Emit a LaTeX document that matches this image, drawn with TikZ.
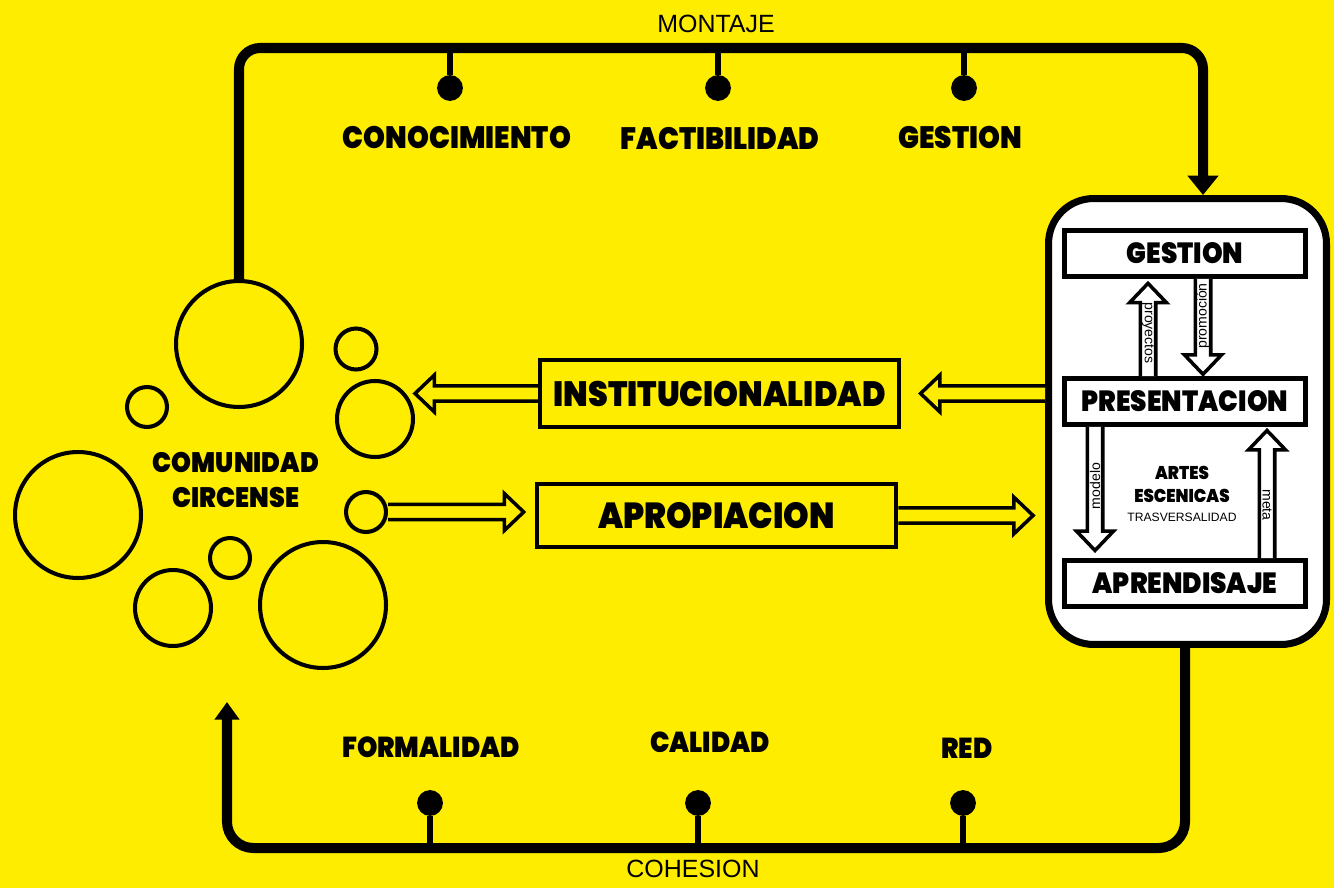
\documentclass[tikz,border=0pt]{standalone}
\usepackage{fontspec}
\setmainfont{Liberation Sans}
\newfontfamily\heavyfont{Poppins Black}[FakeStretch=0.9]
\usetikzlibrary{arrows.meta, positioning, calc}
\definecolor{CircusYellow}{RGB}{255,237,0}

% open block arrow drawn as an outline between two points
\tikzset{
  tip gap/.store in=\tipgap, tip gap=0pt,
  hollow/.style={draw=black, line width=2pt, fill=#1, line join=miter,
    to path={let \p1=(\tikztostart), \p2=(\tikztotarget),
      \n1={atan2(\y2-\y1,\x2-\x1)}, \n2={veclen(\x2-\x1,\y2-\y1)-\tipgap} in
      {[shift={(\p1)}, rotate=\n1]
        (0pt,-4.4pt) -- (\n2-11pt,-4.4pt) -- (\n2-11pt,-10.5pt) -- (\n2,0pt)
        -- (\n2-11pt,10.5pt) -- (\n2-11pt,4.4pt) -- (0pt,4.4pt)}}},
  hollow/.default=CircusYellow,
}

\begin{document}
\begin{tikzpicture}[x=0.02cm, y=-0.02cm,
    bus/.style={line width=5.7pt, rounded corners=12pt},
    drop/.style={line width=3.4pt},
    dot/.style={circle, fill, inner sep=0pt, minimum size=14.7pt},
    ring/.style={circle, draw, line width=2.3pt, inner sep=0pt, minimum size=#1},
    word/.style={font=\heavyfont\fontsize{#1}{#1}\selectfont, inner sep=0pt},
    plate/.style={rectangle, draw, line width=2.6pt, minimum width=7.18cm, minimum height=#1},
    stage/.style={rectangle, draw, fill=white, line width=2.8pt, minimum width=4.82cm,
                  minimum height=0.92cm, word=16.6pt},
    plain/.style={font=\fontsize{14.2pt}{14.2pt}\selectfont, inner sep=0pt},
    tag/.style={font=\fontsize{8pt}{8pt}\selectfont, inner sep=0pt},
  ]
  \fill[CircusYellow] (0,0) rectangle (1334,888);
  \useasboundingbox (0,0) rectangle (1334,888);

  % circus community
  \node[ring=2.52cm] (c1) at (239,344) {};
  \node[ring=0.82cm] (c2) at (356,349) {};
  \node[ring=1.52cm] (c3) at (375,419) {};
  \node[ring=0.80cm] (c4) at (147,407) {};
  \node[ring=2.52cm] (c5) at (78,515) {};
  \node[ring=0.80cm] (c6) at (366,512) {};
  \node[ring=0.80cm] (c7) at (230,558) {};
  \node[ring=1.52cm] (c8) at (173,608) {};
  \node[ring=2.52cm] (c9) at (323,605) {};
  \node[font=\heavyfont\fontsize{16pt}{20.4pt}\selectfont, align=center] (community) at (236,480) {COMUNIDAD\\CIRCENSE};

  % middle boxes
  \node[plate=1.34cm, word=20pt] (insti) at (719.5,393.5) {INSTITUCIONALIDAD};
  \node[plate=1.26cm, word=20.6pt] (apro) at (716.5,515.5) {APROPIACION};

  % performing arts board
  \node[draw, fill=white, line width=4pt, rounded corners=0.9cm, minimum width=5.56cm,
        minimum height=8.92cm] (board) at (1187.5,421.5) {};
  \node[stage] (gest) at (1185,253.5) {GESTION};
  \node[stage] (pres) at (1185,401.5) {PRESENTACION};
  \node[stage] (apren) at (1185,583.5) {APRENDISAJE};
  \node[font=\heavyfont\fontsize{10.5pt}{13pt}\selectfont, align=center] (arts) at (1182,484) {ARTES\\ESCENICAS};
  \node[tag, font=\fontsize{6.9pt}{6.9pt}\selectfont] (trans) at (1182,517) {TRASVERSALIDAD};

  % montaje loop
  \node[plain] (montaje) at (716,24) {MONTAJE};
  \coordinate (topright) at (1203,48);
  \draw[bus, -{Triangle[length=11pt, width=17pt]}] (c1.north) |- (topright) -- (topright |- board.north);
  \node[dot] (k1) at (450,88) {};
  \node[dot] (k2) at (718,88) {};
  \node[dot] (k3) at (964,88) {};
  \foreach \k in {k1,k2,k3}
    \draw[drop] (\k) -- (\k |- topright);
  \node[word=17.6pt] (know) at (457,137) {CONOCIMIENTO};
  \node[word=17.6pt] (feasible) at (720,139) {FACTIBILIDAD};
  \node[word=17.6pt] (manage) at (960,137) {GESTION};

  % cohesion loop
  \node[plain] (cohesion) at (693,869) {COHESION};
  \coordinate (botleft) at (227,848);
  \coordinate (comin) at (227,702);
  \draw[bus, rounded corners=15pt, -{Triangle[length=10pt, width=13.6pt]}] (pres.south |- board.south) |- (botleft) -- (comin);
  \node[dot] (d1) at (430,803) {};
  \node[dot] (d2) at (698,803) {};
  \node[dot] (d3) at (963,803) {};
  \foreach \d in {d1,d2,d3}
    \draw[drop] (\d) -- (\d |- botleft);
  \node[word=16.4pt] (formal) at (431,747) {FORMALIDAD};
  \node[word=16.4pt] (quality) at (710,742) {CALIDAD};
  \node[word=16.4pt] (net) at (967,748) {RED};

  % block arrows
  \draw[hollow, tip gap=11pt] (insti.east -| board.west) to (insti.east);
  \draw[hollow] (insti.west) to (c3.east |- insti.west);
  \draw[hollow, tip gap=6.3pt] (c6.east) to (c6.east -| apro.west);
  \draw[hollow, tip gap=6.8pt] (apro.east) to (apro.east -| board.west);
  \draw[hollow=white, tip gap=2.5pt] ($(pres.north)+(-37,0)$) to ($(gest.south)+(-37,0)$);
  \draw[hollow=white, tip gap=1pt] ($(gest.south)+(18,0)$) to ($(pres.north)+(18,0)$);
  \draw[hollow=white, tip gap=4.3pt] ($(pres.south)+(-90,0)$) to ($(apren.north)+(-90,0)$);
  \draw[hollow=white, tip gap=2pt] ($(apren.north)+(82,0)$) to ($(pres.south)+(82,0)$);
  \node[tag, rotate=-90] (proj) at (1148,333) {proyectos};
  \node[tag, rotate=90] (promo) at (1203,316) {promoción};
  \node[tag, rotate=90] (model) at (1095,486) {modelo};
  \node[tag, rotate=-90] (goal) at (1267,505) {meta};
\end{tikzpicture}
\end{document}
